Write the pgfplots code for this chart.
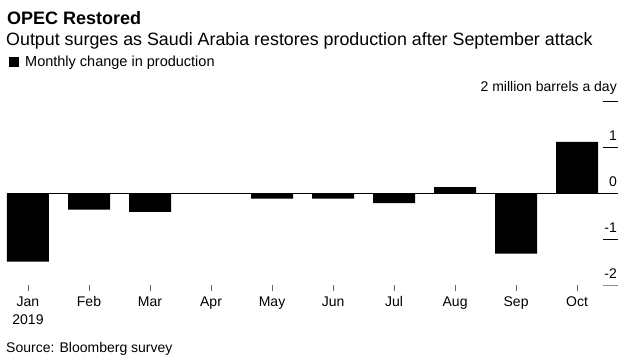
\documentclass[border=0pt]{standalone}
\usepackage{pgfplots}
\pgfplotsset{compat=1.18}
\usepackage{fontspec}
\setmainfont{Liberation Sans}
\begin{document}
\begin{tikzpicture}[x=1bp,y=1bp]
\useasboundingbox (0,0) rectangle (633,361);
% titles
\node[anchor=base west,inner sep=0] at (7,361-24) {\fontsize{18bp}{20bp}\selectfont\bfseries OPEC Restored};
\node[anchor=base west,inner sep=0] at (6,361-45) {\fontsize{17.85bp}{20bp}\selectfont Output surges as Saudi Arabia restores production after September attack};
\fill[black] (9,361-57) rectangle (19,361-67);
\node[anchor=base west,inner sep=0] at (25,361-66.5) {\fontsize{14.5bp}{16bp}\selectfont Monthly change in production};
\node[anchor=base west,inner sep=0] at (6,361-352) {\fontsize{14bp}{16bp}\selectfont Source: Bloomberg survey};
% data axis
\begin{axis}[
  at={(7bp,76bp)}, anchor=south west,
  scale only axis, width=611bp, height=184bp,
  xmin=-0.344, xmax=9.67, ymin=-2, ymax=2,
  axis line style={draw=none},
  ytick=\empty,
  xtick={0,...,9},
  xticklabels={Jan\\2019,Feb,Mar,Apr,May,Jun,Jul,Aug,Sep,Oct},
  xticklabel style={align=center, font=\fontsize{14bp}{18bp}\selectfont, yshift=-2bp},
  xtick pos=bottom, tick align=outside, major tick length=6bp,
  tick style={black!60, line width=0.8bp},
  clip=false,
]
\addplot[black, line width=1bp] coordinates {(-0.344,0) (9.67,0)};
\addplot[ybar, bar width=42bp, fill=black, draw=none, bar shift=0pt] coordinates {
(0,-1.49) (1,-0.36) (2,-0.41) (3,-0.015) (4,-0.12) (5,-0.12) (6,-0.22) (7,0.13) (8,-1.32) (9,1.11)};
\end{axis}
% y tick axis
\begin{axis}[
  at={(7bp,76bp)}, anchor=south west,
  scale only axis, width=611bp, height=184bp,
  xmin=-0.344, xmax=9.67, ymin=-2, ymax=2,
  axis line style={draw=none},
  xtick=\empty,
  ytick={-1,0,1,2},
  yticklabels={-1,0,1,2 million barrels a day},
  extra y ticks={-2},
  extra y tick labels={-2},
  extra y tick style={tick style={black!45, line width=1bp}},
  ytick pos=right, tick align=inside, major tick length=15bp,
  tick style={black, line width=1bp},
  yticklabel style={anchor=south east, xshift=-1bp, yshift=6bp, inner sep=0pt, font=\fontsize{14bp}{16bp}\selectfont},
]
\end{axis}
\end{tikzpicture}
\end{document}
